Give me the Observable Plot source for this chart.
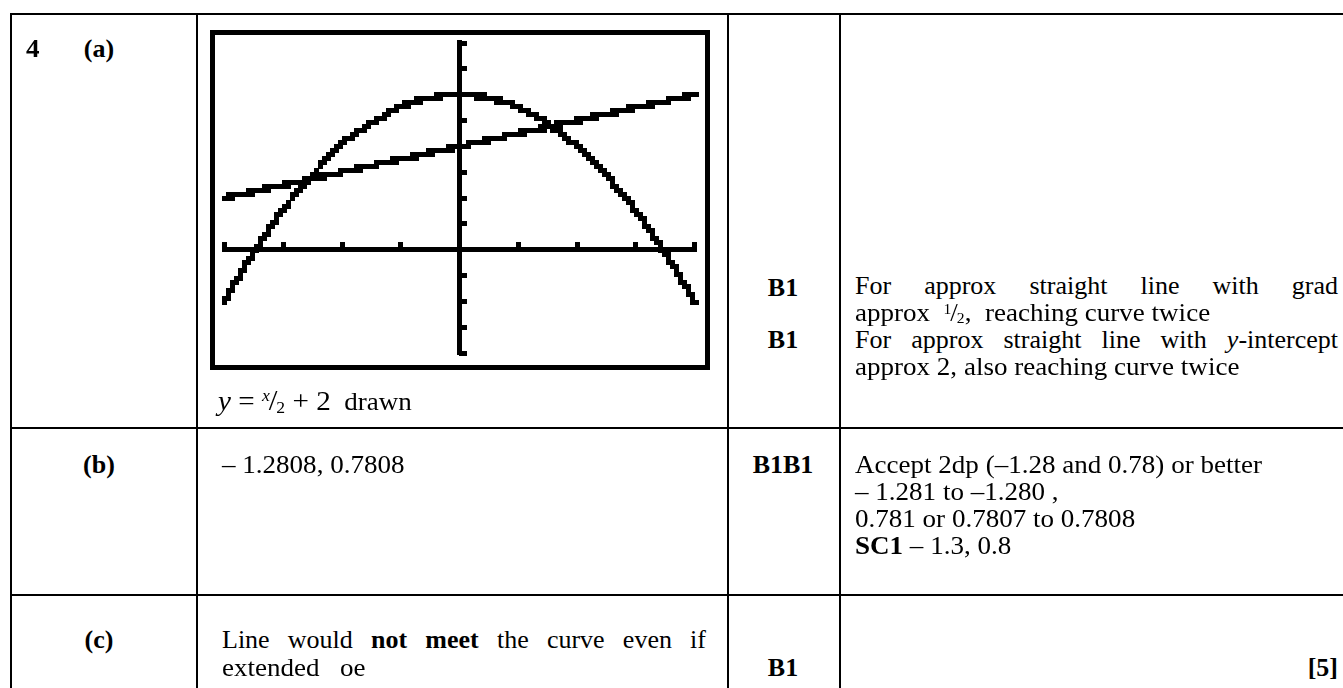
<!DOCTYPE html>
<html><head><meta charset="utf-8">
<script src="https://cdn.jsdelivr.net/npm/d3@7"></script>
<script src="https://cdn.jsdelivr.net/npm/@observablehq/plot@0.6"></script>
<style>
html,body{margin:0;padding:0;background:#fff;}
body{width:1343px;height:688px;overflow:hidden;position:relative;font-family:"Liberation Serif","Times New Roman",serif;font-size:26px;color:#000;}
.h{position:absolute;height:2px;background:#000;}
.v{position:absolute;width:2px;background:#000;}
.t{position:absolute;white-space:pre;line-height:26px;height:26px;transform-origin:0 0;transform:scaleX(1.04);}
.j{position:absolute;white-space:normal;line-height:26px;height:26px;text-align:justify;text-align-last:justify;}
.c{transform-origin:50% 0;transform:translateX(-50%);}
.r{transform-origin:100% 0;transform:translateX(-100%);}
b{font-weight:bold;}
.sup{font-size:15px;position:relative;top:-7px;}
.sub{font-size:15px;position:relative;top:2px;}
.sl{font-size:26px;margin:0 -1px;}
.eq{font-size:28px;}
.eq .sup{font-size:17px;top:-9px;}
.eq .sub{font-size:17px;top:3px;}
.eq .sl{font-size:30px;}
#calc{position:absolute;left:210px;top:30px;width:490px;height:330px;border:5px solid #000;}
#calc svg{display:block;}
</style></head><body>
<!-- table rules -->
<div class="h" style="left:10px;top:13px;width:1333px"></div>
<div class="h" style="left:10px;top:427px;width:1333px"></div>
<div class="h" style="left:10px;top:594px;width:1333px"></div>
<div class="v" style="left:10px;top:13px;height:675px"></div>
<div class="v" style="left:196px;top:13px;height:675px"></div>
<div class="v" style="left:727px;top:13px;height:675px"></div>
<div class="v" style="left:839px;top:13px;height:675px"></div>

<div id="calc"></div>
<div id="texts"></div>

<script>
const xDomain = [-2, 2];
const yDomain = [-2, 4];
const axisAt = [0];
const curveX = [-2, -1.75, -1.5, -1.25, -1, -0.75, -0.5, -0.25, 0, 0.25, 0.5, 0.75, 1, 1.25, 1.5, 1.75, 2];
const curveY = [-1.0, -0.05, 0.78, 1.44, 2.05, 2.44, 2.76, 2.94, 3.0, 2.94, 2.76, 2.44, 2.0, 1.44, 0.76, -0.06, -1.0];
const lineX = [-2, -1, 0, 1, 2];
const lineY = [1.0, 1.5, 2.0, 2.5, 3.0];
const xTicks = [-2, -1.5, -1, -0.5, 0.5, 1, 1.5, 2];
const yTicks = [-2, -1.5, -1, -0.5, 0.5, 1, 1.5, 2, 2.5, 3, 3.5, 4];

const curveData = curveX.map((x, i) => ({x, y: curveY[i]}));
const lineData = lineX.map((x, i) => ({x, y: lineY[i]}));

const chart = Plot.plot({
  width: 490, height: 330,
  marginLeft: 9, marginRight: 11, marginTop: 7.5, marginBottom: 12.5,
  x: {domain: xDomain, axis: null},
  y: {domain: yDomain, axis: null},
  style: {background: "transparent", overflow: "visible"},
  marks: [
    Plot.ruleY(axisAt, {x1: xDomain[0], x2: xDomain[1], stroke: "#000", strokeWidth: 5, strokeLinecap: "square", shapeRendering: "crispEdges"}),
    Plot.ruleX(axisAt, {y1: yDomain[0], y2: yDomain[1], stroke: "#000", strokeWidth: 5, strokeLinecap: "square", shapeRendering: "crispEdges"}),
    Plot.ruleX(xTicks, {y1: 0, y2: 0.145, stroke: "#000", strokeWidth: 5, shapeRendering: "crispEdges"}),
    Plot.ruleY(yTicks, {x1: 0, x2: 0.064, stroke: "#000", strokeWidth: 5, shapeRendering: "crispEdges"}),
    Plot.line(curveData, {x: "x", y: "y", curve: "natural", stroke: "#000", strokeWidth: 5.5, strokeLinecap: "square"}),
    Plot.line(lineData, {x: "x", y: "y", stroke: "#000", strokeWidth: 5.5, strokeLinecap: "square"})
  ]
});

// calculator-style pixelation of the plotted graphs
const ns = "http://www.w3.org/2000/svg";
const defs = document.createElementNS(ns, "defs");
defs.innerHTML = `<filter id="pix" filterUnits="userSpaceOnUse" x="0" y="0" width="490" height="330" color-interpolation-filters="sRGB">
  <feFlood x="4" y="2" width="1" height="1" flood-color="#000" flood-opacity="1"/>
  <feComposite width="5" height="5"/>
  <feTile result="grid"/>
  <feComposite in="SourceGraphic" in2="grid" operator="in"/>
  <feComponentTransfer><feFuncA type="discrete" tableValues="0 1"/></feComponentTransfer>
  <feMorphology operator="dilate" radius="2"/>
</filter>`;
chart.insertBefore(defs, chart.firstChild);
chart.querySelectorAll('g[aria-label="line"]').forEach(g => g.setAttribute("filter", "url(#pix)"));
document.getElementById("calc").appendChild(chart);

// ---- table text ----
const T = document.getElementById("texts");
function put(html, x, base, cls) {
  const d = document.createElement("div");
  d.className = "t" + (cls ? " " + cls : "");
  d.style.left = x + "px";
  d.style.top = (base - 20) + "px";
  d.innerHTML = html;
  T.appendChild(d);
  return d;
}
function just(html, x, base, w) {
  const d = document.createElement("div");
  d.className = "j";
  d.style.left = x + "px";
  d.style.top = (base - 20) + "px";
  d.style.width = w + "px";
  d.innerHTML = html;
  T.appendChild(d);
}
const frac = (a, b, ital) => `<span class="sup">${ital ? "<i>" + a + "</i>" : a}</span><span class="sl">/</span><span class="sub">${b}</span>`;

put("<b>4</b>", 26, 56);
put("<b>(a)</b>", 99, 56, "c");
put("<b>(b)</b>", 99, 472, "c");
put("<b>(c)</b>", 99, 647, "c");

put(`<span class="eq"><i>y</i> = ${frac("x", "2", true)} + 2</span>  drawn`, 218, 407);
put("– 1.2808, 0.7808", 222, 472);
just("Line would <b>not meet</b> the curve even if", 222, 647, 484);
put("extended   oe", 222, 675);

put("<b>B1</b>", 783, 295, "c");
put("<b>B1</b>", 783, 347, "c");
put("<b>B1B1</b>", 783, 472, "c");
put("<b>B1</b>", 783, 675, "c");

just("For approx straight line with grad", 855, 293, 483);
put(`approx  ${frac("1", "2")},  reaching curve twice`, 855, 320);
just("For approx straight line with <i>y</i>-intercept", 855, 347, 483);
put("approx 2, also reaching curve twice", 855, 374);
put("Accept 2dp (–1.28 and 0.78) or better", 855, 472);
put("– 1.281 to –1.280 ,", 855, 499);
put("0.781 or 0.7807 to 0.7808", 855, 526);
put("<b>SC1</b> – 1.3, 0.8", 855, 553);
put("<b>[5]</b>", 1338, 675, "r");
</script>
</body></html>
